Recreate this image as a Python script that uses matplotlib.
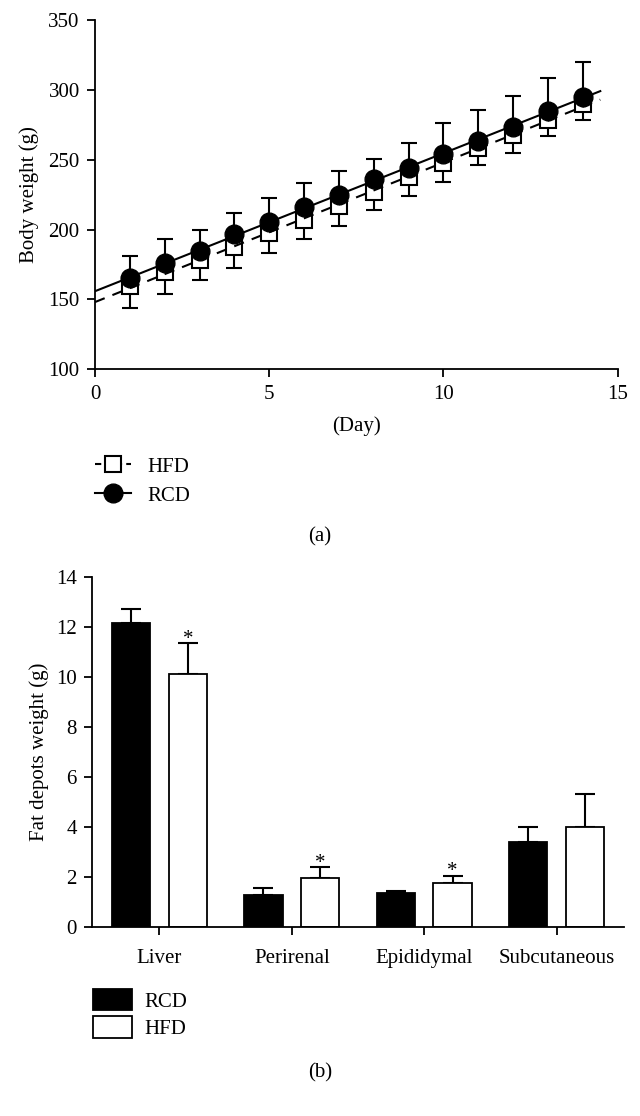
import numpy as np
import matplotlib
matplotlib.use("Agg")
import matplotlib.pyplot as plt
from matplotlib.lines import Line2D
from matplotlib.patches import Patch

# ---------------- data: (a) body weight ----------------
days = np.arange(1, 15)
rcd_mean = [165.1, 176.4, 184.5, 196.5, 205.5, 216.0, 224.6, 235.9, 243.8, 254.0, 263.3, 273.6, 285.1, 295.2]
rcd_upper = [181.3, 193.3, 199.6, 212.2, 222.7, 233.5, 241.8, 250.6, 261.7, 276.0, 285.8, 295.8, 308.3, 320.2]
hfd_mean = [159.9, 169.3, 177.9, 187.2, 197.7, 207.2, 217.0, 227.0, 237.6, 247.8, 258.1, 267.7, 278.2, 290.0]
hfd_lower = [144.1, 154.2, 163.8, 172.8, 182.9, 193.1, 202.4, 213.7, 223.9, 234.0, 245.9, 255.0, 267.2, 278.5]
x_ticks_a = [0, 5, 10, 15]
y_ticks_a = [100, 150, 200, 250, 300, 350]

# ---------------- data: (b) fat depots ----------------
organs = ["Liver", "Perirenal", "Epididymal", "Subcutaneous"]
rcd_fat = [12.14, 1.27, 1.36, 3.39]
rcd_fat_err = [0.56, 0.29, 0.08, 0.60]
hfd_fat = [10.10, 1.93, 1.75, 4.00]
hfd_fat_err = [1.24, 0.44, 0.29, 1.31]
significant = [True, True, True, False]
y_ticks_b = [0, 2, 4, 6, 8, 10, 12, 14]

FONT = ["Liberation Serif", "DejaVu Serif"]
FS = 15
plt.rcParams["font.family"] = FONT
plt.rcParams["font.size"] = FS

W, H = 640, 1116
fig = plt.figure(figsize=(W / 100, H / 100), dpi=100)

def style_axes(ax):
    for s in ["top", "right"]:
        ax.spines[s].set_visible(False)
    for s in ["left", "bottom"]:
        ax.spines[s].set_linewidth(1.3)
    ax.tick_params(direction="out", length=6, width=1.3, labelsize=FS, pad=5)

# ---------------- (a) ----------------
ax1 = fig.add_axes([95 / W, 1 - 369.3 / H, 522.7 / W, 349.3 / H])
style_axes(ax1)
ax1.set_xlim(0, 15)
ax1.set_ylim(100, 350)
ax1.set_xticks(x_ticks_a)
ax1.set_yticks(y_ticks_a)

rcd_m = np.array(rcd_mean)
hfd_m = np.array(hfd_mean)
rcd_err = np.array(rcd_upper) - rcd_m
hfd_err = hfd_m - np.array(hfd_lower)

# HFD: white squares with downward error bars
ax1.errorbar(days, hfd_m, yerr=[hfd_err, np.zeros_like(hfd_err)], fmt="s", color="black",
             mfc="white", mec="black", mew=1.5, ms=12, capsize=6, elinewidth=1.5,
             capthick=1.5, zorder=2)
# regression lines
fit_x = np.linspace(0, 14.5, 50)
ph = np.polyfit(days, hfd_m, 1)
ax1.plot(fit_x, np.polyval(ph, fit_x), "--", color="black", lw=1.5, dashes=(5, 4), zorder=3)
# RCD: black circles with upward error bars
ax1.errorbar(days, rcd_m, yerr=[np.zeros_like(rcd_err), rcd_err], fmt="o", color="black",
             mfc="black", mec="black", ms=13.5, capsize=6, elinewidth=1.5,
             capthick=1.5, zorder=4)
pr = np.polyfit(days, rcd_m, 1)
ax1.plot(fit_x, np.polyval(pr, fit_x), "-", color="black", lw=1.5, zorder=5)

ax1.set_ylabel("Body weight (g)", fontsize=FS, labelpad=7)
ax1.set_xlabel("(Day)", fontsize=FS, labelpad=9)

h_hfd = Line2D([], [], color="black", linestyle="--", dashes=(3, 2), lw=1.5, marker="s",
               ms=12, mfc="white", mec="black", mew=1.5)
h_rcd = Line2D([], [], color="black", linestyle="-", lw=1.5, marker="o", ms=13.5,
               mfc="black", mec="black")
fig.legend([h_hfd, h_rcd], ["HFD", "RCD"], loc="upper left",
           bbox_to_anchor=(95 / W, 1 - 457 / H), frameon=False, fontsize=FS,
           handlelength=1.75, handletextpad=0.75, labelspacing=0.45,
           borderpad=0, borderaxespad=0)
fig.text(0.5, 1 - 537 / H, "(a)", ha="center", va="center", fontsize=FS)

# ---------------- (b) ----------------
ax2 = fig.add_axes([92 / W, 1 - 926.7 / H, 532 / W, 350 / H])
style_axes(ax2)
xpos = np.arange(len(organs))
bw = 0.29
off = 0.215
ax2.bar(xpos - off, rcd_fat, bw, color="black", edgecolor="black", lw=1.3, zorder=2)
ax2.bar(xpos + off, hfd_fat, bw, color="white", edgecolor="black", lw=1.3, zorder=2)
ax2.errorbar(xpos - off, rcd_fat, yerr=[np.zeros(4), rcd_fat_err], fmt="none",
             ecolor="black", elinewidth=1.5, capsize=7, capthick=1.5, zorder=1)
ax2.errorbar(xpos + off, hfd_fat, yerr=[np.zeros(4), hfd_fat_err], fmt="none",
             ecolor="black", elinewidth=1.5, capsize=7, capthick=1.5, zorder=1)
for i, s in enumerate(significant):
    if s:
        ax2.annotate("*", xy=(xpos[i] + off, hfd_fat[i] + hfd_fat_err[i]),
                     xytext=(0, -4), textcoords="offset points", ha="center",
                     va="bottom", fontsize=FS)
ax2.set_xlim(-0.51, 3.51)
ax2.set_ylim(0, 14)
ax2.set_yticks(y_ticks_b)
ax2.set_xticks(xpos)
ax2.set_xticklabels(organs)
ax2.tick_params(axis="x", pad=10)
ax2.set_ylabel("Fat depots weight (g)", fontsize=FS, labelpad=5)

hb1 = Patch(facecolor="black", edgecolor="black", lw=1.3)
hb2 = Patch(facecolor="white", edgecolor="black", lw=1.3)
fig.legend([hb1, hb2], ["RCD", "HFD"], loc="upper left",
           bbox_to_anchor=(93 / W, 1 - 989 / H), frameon=False, fontsize=FS,
           handlelength=1.85, handleheight=1.2, handletextpad=0.6, labelspacing=0.22,
           borderpad=0, borderaxespad=0)
fig.text(0.5, 1 - 1073 / H, "(b)", ha="center", va="center", fontsize=FS)

fig.savefig("out.png", dpi=100)
